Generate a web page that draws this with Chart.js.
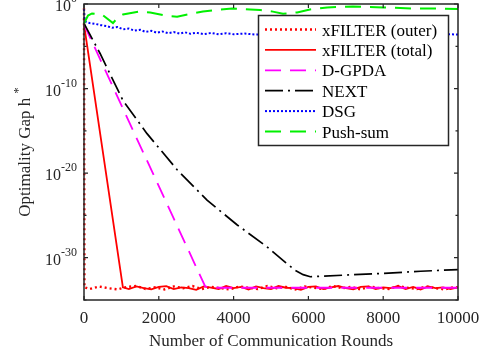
<html>

<head>
    <title>Optimality gap vs communication rounds</title>
    <script src="https://cdn.jsdelivr.net/npm/chart.js"></script>
    <style>
        body { margin: 0; background: #fff; }
    </style>
</head>

<body>
    <canvas id="myChart" width="487" height="352"></canvas>

    <script>
        // [communication rounds, log10 of optimality gap]
        const xfilterOuter = [
            [0, -0.5], [12, -33.5], [150, -33.7], [400, -33.4], [650, -33.6], [900, -33.75],
            [1150, -33.45], [1400, -33.35], [1650, -33.7], [1900, -33.5], [2150, -33.75],
            [2400, -33.4], [2650, -33.6], [2900, -33.35], [3150, -33.7], [3400, -33.45],
            [3650, -33.6], [3900, -33.75], [4150, -33.4], [4400, -33.55], [4650, -33.7],
            [4900, -33.35], [5150, -33.6], [5400, -33.45], [5650, -33.75], [5900, -33.4],
            [6150, -33.55], [6400, -33.7], [6650, -33.35], [6900, -33.6], [7150, -33.45],
            [7400, -33.75], [7650, -33.4], [7900, -33.6], [8150, -33.7], [8400, -33.35],
            [8650, -33.55], [8900, -33.7], [9150, -33.4], [9400, -33.6], [9650, -33.75],
            [9900, -33.45], [10000, -33.55]
        ];
        const xfilterTotal = [
            [0, -2.4], [1040, -33.5], [1200, -33.7], [1400, -33.4], [1600, -33.6],
            [1800, -33.75], [2000, -33.45], [2200, -33.35], [2400, -33.7], [2600, -33.5],
            [2800, -33.6], [3000, -33.8], [3200, -33.4], [3400, -33.55], [3600, -33.7],
            [3800, -33.35], [4000, -33.6], [4200, -33.45], [4400, -33.75], [4600, -33.4],
            [4800, -33.6], [5000, -33.7], [5200, -33.35], [5400, -33.55], [5600, -33.6],
            [5800, -33.8], [6000, -33.45], [6200, -33.4], [6400, -33.7], [6600, -33.5],
            [6800, -33.35], [7000, -33.6], [7200, -33.75], [7400, -33.45], [7600, -33.4],
            [7800, -33.7], [8000, -33.5], [8200, -33.6], [8400, -33.35], [8600, -33.7],
            [8800, -33.45], [9000, -33.75], [9200, -33.4], [9400, -33.6], [9600, -33.5],
            [9800, -33.7], [10000, -33.5]
        ];
        const dgpda = [
            [0, -2.4], [3240, -33.4], [3400, -33.55], [10000, -33.55]
        ];
        const next = [
            [0, -2.3], [430, -5.85], [1040, -11.4], [1680, -15.3], [2490, -19.6],
            [3290, -23.2], [4090, -26.1], [4890, -28.7], [5400, -30.6], [5650, -31.5],
            [5860, -32.0], [6050, -32.25], [7000, -32.05], [8000, -31.85], [9000, -31.6],
            [10000, -31.4]
        ];
        const dsg = [
            [0, -0.6], [15, -1.9], [60, -2.15], [150, -2.25], [300, -2.35], [450, -2.5],
            [600, -2.6], [750, -2.82], [900, -2.72], [1050, -3.0], [1200, -2.9],
            [1350, -3.15], [1500, -3.05], [1650, -3.3], [1800, -3.17], [1950, -3.4],
            [2100, -3.25], [2250, -3.45], [2400, -3.32], [2550, -3.5], [2700, -3.35],
            [2850, -3.52], [3000, -3.4], [3200, -3.56], [3400, -3.43], [3600, -3.58],
            [3800, -3.46], [4000, -3.58], [4300, -3.5], [4600, -3.62], [4900, -3.52],
            [5200, -3.62], [5500, -3.54], [5800, -3.64], [6100, -3.55], [6400, -3.64],
            [6700, -3.56], [7000, -3.65], [7400, -3.56], [7800, -3.65], [8200, -3.57],
            [8600, -3.66], [9000, -3.57], [9400, -3.65], [9800, -3.58], [10000, -3.62]
        ];
        const pushSum = [
            [0, -2.3], [107, -1.36], [214, -1.12], [480, -1.24], [775, -2.25], [900, -1.6],
            [1040, -1.24], [1500, -0.88], [1770, -1.0], [2220, -1.4], [2490, -1.5],
            [2910, -1.12], [3180, -0.88], [3640, -0.65], [3960, -0.53], [4440, -0.65],
            [4710, -0.7], [5050, -0.9], [5320, -1.15], [5700, -1.0], [6040, -0.65],
            [6500, -0.41], [7190, -0.29], [8000, -0.41], [8800, -0.53], [9520, -0.53],
            [10000, -0.6]
        ];

        const xTicks = [0, 2000, 4000, 6000, 8000, 10000];
        const yMajorExp = [0, -10, -20, -30];
        const yMinorExp = [-5, -15, -25, -35];

        const FONT = '"Liberation Serif", "Times New Roman", serif';
        const AXIS_COLOR = '#262626';

        function toPoints(pairs) {
            return pairs.map(p => ({ x: p[0], y: Math.pow(10, p[1]) }));
        }

        const datasets = [
            { label: 'xFILTER (outer)', data: toPoints(xfilterOuter), borderColor: '#ff0000', borderWidth: 2.4, borderDash: [2, 3], order: 6 },
            { label: 'xFILTER (total)', data: toPoints(xfilterTotal), borderColor: '#ff0000', borderWidth: 1.8, borderDash: [], order: 5 },
            { label: 'D-GPDA', data: toPoints(dgpda), borderColor: '#ff00ff', borderWidth: 1.8, borderDash: [16, 9], order: 4 },
            { label: 'NEXT', data: toPoints(next), borderColor: '#000000', borderWidth: 1.7, borderDash: [18, 5, 2, 5], order: 3 },
            { label: 'DSG', data: toPoints(dsg), borderColor: '#0000ff', borderWidth: 2, borderDash: [2, 2], order: 2 },
            { label: 'Push-sum', data: toPoints(pushSum), borderColor: '#00f000', borderWidth: 2, borderDash: [16, 9], order: 1 },
        ];

        // axes box, inward ticks, tick labels, titles and legend
        const decorations = {
            id: 'decorations',
            afterDraw(chart) {
                const ctx = chart.ctx;
                const a = chart.chartArea;
                const xs = chart.scales.x, ys = chart.scales.y;
                ctx.save();

                ctx.strokeStyle = AXIS_COLOR;
                ctx.lineWidth = 1.5;
                ctx.setLineDash([]);
                ctx.strokeRect(a.left, a.top, a.right - a.left, a.bottom - a.top);

                ctx.lineWidth = 1.2;
                ctx.beginPath();
                xTicks.forEach(v => {
                    const px = xs.getPixelForValue(v);
                    ctx.moveTo(px, a.bottom); ctx.lineTo(px, a.bottom - 4);
                    ctx.moveTo(px, a.top); ctx.lineTo(px, a.top + 4);
                });
                yMajorExp.forEach(e => {
                    const py = ys.getPixelForValue(Math.pow(10, e));
                    ctx.moveTo(a.left, py); ctx.lineTo(a.left + 4, py);
                    ctx.moveTo(a.right, py); ctx.lineTo(a.right - 4, py);
                });
                yMinorExp.forEach(e => {
                    const py = ys.getPixelForValue(Math.pow(10, e));
                    ctx.moveTo(a.left, py); ctx.lineTo(a.left + 2.5, py);
                    ctx.moveTo(a.right, py); ctx.lineTo(a.right - 2.5, py);
                });
                ctx.stroke();

                // x tick labels
                ctx.fillStyle = AXIS_COLOR;
                ctx.font = '17px ' + FONT;
                ctx.textAlign = 'center';
                ctx.textBaseline = 'alphabetic';
                xTicks.forEach(v => {
                    ctx.fillText(String(v), xs.getPixelForValue(v), a.bottom + 23);
                });

                // y tick labels as 10^e
                yMajorExp.forEach(e => {
                    const py = ys.getPixelForValue(Math.pow(10, e));
                    const sup = String(e);
                    ctx.font = '12px ' + FONT;
                    const sw = ctx.measureText(sup).width;
                    const right = a.left - 7;
                    ctx.textAlign = 'left';
                    ctx.fillText(sup, right - sw, py - 2);
                    ctx.font = '16px ' + FONT;
                    ctx.textAlign = 'right';
                    ctx.fillText('10', right - sw, py + 7);
                });

                // axis titles
                ctx.font = '17px ' + FONT;
                ctx.textAlign = 'center';
                ctx.fillText('Number of Communication Rounds', (a.left + a.right) / 2, 346);

                ctx.save();
                ctx.translate(30, (a.top + a.bottom) / 2);
                ctx.rotate(-Math.PI / 2);
                const main = 'Optimality Gap h';
                const mw = ctx.measureText(main).width;
                ctx.font = '13px ' + FONT;
                const starW = ctx.measureText('*').width;
                const total = mw + 4 + starW;
                ctx.font = '17px ' + FONT;
                ctx.textAlign = 'left';
                ctx.fillText(main, -total / 2, 0);
                ctx.font = '13px ' + FONT;
                ctx.fillText('*', -total / 2 + mw + 4, -8);
                ctx.restore();

                // legend
                const lx = 258.5, ly = 15.5, lw = 190, lh = 130;
                ctx.fillStyle = '#ffffff';
                ctx.fillRect(lx, ly, lw, lh);
                ctx.strokeStyle = AXIS_COLOR;
                ctx.lineWidth = 1.5;
                ctx.setLineDash([]);
                ctx.strokeRect(lx, ly, lw, lh);
                chart.data.datasets.forEach((ds, i) => {
                    const cy = 29.5 + i * 20.4;
                    ctx.strokeStyle = ds.borderColor;
                    ctx.lineWidth = ds.borderWidth;
                    ctx.setLineDash(ds.borderDash);
                    ctx.beginPath();
                    ctx.moveTo(265, cy);
                    ctx.lineTo(316, cy);
                    ctx.stroke();
                    ctx.setLineDash([]);
                    ctx.fillStyle = '#000000';
                    ctx.font = '17px ' + FONT;
                    ctx.textAlign = 'left';
                    ctx.fillText(ds.label, 322, cy + 6);
                });

                ctx.restore();
            }
        };

        const config = {
            type: 'line',
            data: { datasets: datasets },
            options: {
                responsive: false,
                animation: false,
                layout: { padding: { top: 4, right: 29, left: 0, bottom: 0 } },
                elements: {
                    point: { radius: 0 },
                    line: { tension: 0, borderCapStyle: 'butt' }
                },
                datasets: { line: { clip: { left: 2, top: 0, right: 0, bottom: 0 }, fill: false } },
                plugins: {
                    legend: { display: false },
                    tooltip: { enabled: false }
                },
                scales: {
                    x: {
                        type: 'linear',
                        min: 0,
                        max: 10000,
                        ticks: { display: false },
                        grid: { display: false },
                        border: { display: false },
                        afterFit: (scale) => { scale.height = 52; }
                    },
                    y: {
                        type: 'logarithmic',
                        min: 1e-35,
                        max: 1,
                        ticks: { display: false },
                        grid: { display: false },
                        border: { display: false },
                        afterFit: (scale) => { scale.width = 84; }
                    }
                }
            },
            plugins: [decorations]
        };

        const myChart = new Chart(document.getElementById('myChart'), config);
    </script>
</body>

</html>
